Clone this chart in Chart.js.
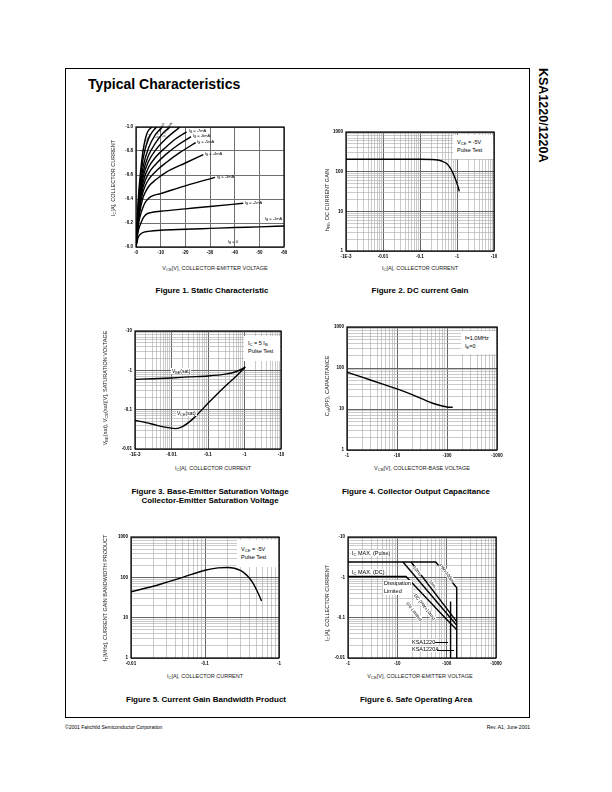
<!DOCTYPE html>
<html><head><meta charset="utf-8">
<script src="https://cdn.jsdelivr.net/npm/chart.js@4.4.0/dist/chart.umd.min.js"></script>
<style>
body{margin:0;width:612px;height:792px;background:#fff;position:relative;font-family:"Liberation Sans",Arial,Helvetica,sans-serif;overflow:hidden}
.abs{position:absolute;white-space:nowrap;z-index:5}
canvas{position:absolute;z-index:1}
sub{font-size:75%;vertical-align:-1px;line-height:0}
.cap{font-weight:bold;font-size:8px;transform:translateX(-50%)}
.ax{font-size:5.5px;color:#222;transform:translateX(-50%)}
.yax{font-size:5.5px;color:#222;transform:translate(-50%,-50%) rotate(-90deg)}
.note{background:#fff;font-size:5.5px;line-height:8px;padding:3px 4px;box-sizing:border-box}
.lbl{font-size:4px;color:#000}
.wl{background:#fff;font-size:5.5px;padding:0 1px;color:#000}
.rl{font-size:4.5px;background:#fff;transform-origin:0 50%}
</style></head><body>
<script>
// ---------------- DATA ----------------
// Figure 1: Static Characteristic (VCE [V] vs IC [A])
const fig1XTicks=[0,10,20,30,40,50,60];
const fig1XLabels=['-0','-10','-20','-30','-40','-50','-60'];
const fig1YTicks=[0,0.2,0.4,0.6,0.8,1.0];
const fig1YLabels=['-0.0','-0.2','-0.4','-0.6','-0.8','-1.0'];
const fig1Ib1=[[0,0],[0.5,0.05],[1,0.085],[2,0.11],[3,0.122],[5,0.13],[10,0.14],[20,0.148],[30,0.155],[40,0.162],[50,0.168],[60,0.175]];
const fig1Ib2=[[0,0],[0.5,0.08],[1,0.14],[2,0.2],[3,0.245],[4,0.27],[6,0.287],[10,0.298],[20,0.318],[30,0.338],[43.5,0.364]];
const fig1Ib3=[[0,0],[0.5,0.1],[1,0.19],[2,0.28],[3,0.34],[4,0.38],[6,0.42],[10,0.445],[20,0.51],[32,0.58]];
const fig1Ib4=[[0,0],[0.5,0.11],[1,0.22],[2,0.34],[3,0.42],[5,0.5],[8,0.56],[12,0.62],[20,0.7],[27.3,0.77]];
const fig1Ib5=[[0,0],[0.5,0.12],[1,0.24],[2,0.38],[3,0.47],[5,0.56],[8,0.63],[12,0.7],[18,0.79],[24.2,0.87]];
const fig1Ib6=[[0,0],[0.5,0.13],[1,0.26],[2,0.41],[3,0.51],[5,0.61],[8,0.69],[12,0.77],[17,0.85],[22.3,0.92]];
const fig1Ib7=[[0,0],[0.5,0.14],[1,0.28],[2,0.44],[3,0.55],[5,0.66],[8,0.75],[12,0.83],[16,0.9],[20.5,0.96]];
const fig1Ib8=[[0,0],[0.5,0.15],[1,0.3],[2,0.47],[3,0.59],[5,0.71],[8,0.81],[12,0.9],[17.8,1.0]];
const fig1Ib9=[[0,0],[0.5,0.16],[1,0.32],[2,0.5],[3,0.63],[5,0.76],[8,0.87],[11,0.95],[13.8,1.0]];
const fig1Ib10=[[0,0],[0.5,0.17],[1,0.34],[2,0.54],[3,0.68],[5,0.82],[8,0.94],[10.7,1.0]];
const fig1Ib15=[[0,0],[0.5,0.19],[1,0.38],[2,0.6],[3,0.75],[5,0.9],[7,0.97],[8.4,1.0]];
const fig1Ib20=[[0,0],[0.5,0.21],[1,0.42],[2,0.66],[3,0.82],[4.5,0.95],[6.4,1.0]];

// Figure 2: DC current gain (IC [A] vs hFE)
const fig2XTicks=[1e-3,0.01,0.1,1,10];
const fig2XLabels=['-1E-3','-0.01','-0.1','-1','-10'];
const fig2YTicks=[1,10,100,1000];
const fig2YLabels=['1','10','100','1000'];
const fig2Hfe=[[1e-3,205],[0.01,205],[0.1,205],[0.2,203],[0.3,197],[0.4,183],[0.5,165],[0.6,140],[0.7,112],[0.8,86],[0.9,66],[1.0,50],[1.1,38],[1.15,32]];

// Figure 3: Saturation voltages (IC [A] vs V)
const fig3XTicks=[1e-3,0.01,0.1,1,10];
const fig3XLabels=['-1E-3','-0.01','-0.1','-1','-10'];
const fig3YTicks=[0.01,0.1,1,10];
const fig3YLabels=['-0.01','-0.1','-1','-10'];
const fig3Vbe=[[1e-3,0.59],[0.003,0.61],[0.01,0.64],[0.03,0.68],[0.1,0.72],[0.3,0.8],[0.5,0.88],[0.8,1.05],[1.05,1.22]];
const fig3Vce=[[1e-3,0.053],[0.002,0.047],[0.004,0.04],[0.008,0.035],[0.013,0.033],[0.02,0.037],[0.04,0.06],[0.1,0.145],[0.3,0.4],[0.6,0.72],[1.05,1.22]];

// Figure 4: Collector output capacitance (VCB [V] vs Cob [pF])
const fig4XTicks=[1,10,100,1000];
const fig4XLabels=['-1','-10','-100','-1000'];
const fig4YTicks=[1,10,100,1000];
const fig4YLabels=['1','10','100','1000'];
const fig4Cob=[[1,79],[2,60],[5,41],[10,31],[20,22.5],[50,14],[80,11.8],[100,11.2],[130,11]];

// Figure 5: Current gain bandwidth product (IC [A] vs fT [MHz])
const fig5XTicks=[0.01,0.1,1];
const fig5XLabels=['-0.01','-0.1','-1'];
const fig5YTicks=[1,10,100,1000];
const fig5YLabels=['1','10','100','1000'];
const fig5Ft=[[0.01,44],[0.02,60],[0.03,75],[0.05,100],[0.1,150],[0.15,172],[0.2,176],[0.25,168],[0.3,148],[0.35,122],[0.4,95],[0.45,70],[0.5,48],[0.55,33],[0.58,26]];

// Figure 6: Safe operating area (VCE [V] vs IC [A])
const fig6XTicks=[1,10,100,1000];
const fig6XLabels=['-1','-10','-100','-1000'];
const fig6YTicks=[0.01,0.1,1,10];
const fig6YLabels=['-0.01','-0.1','-1','-10'];
const fig6Pulse100us=[[1,2.4],[60,2.4],[160,0.55],[160,0.01]];
const fig6Pulse1ms=[[19,2.4],[160,0.08]];
const fig6Pulse10ms=[[13,2.4],[160,0.065]];
const fig6Dc=[[1,1.05],[15,1.05],[100,0.09],[160,0.05]];
const fig6Vceo1220=[[120,0.25],[120,0.01]];

// ---------------- HELPERS ----------------
const TICKFONT={family:'"Liberation Sans",Arial,sans-serif',size:4.5,weight:'bold'};
const frame={id:'frame',afterDraw(c){const a=c.chartArea,x=c.ctx;x.save();x.strokeStyle='#000';x.lineWidth=1.2;x.strokeRect(a.left,a.top,a.right-a.left,a.bottom-a.top);x.restore();}};
function logList(min,max){const t=[];const e0=Math.round(Math.log10(min)),e1=Math.round(Math.log10(max));for(let e=e0;e<e1;e++){for(let m=1;m<10;m++)t.push(m*Math.pow(10,e));}t.push(max);return t;}
function axis(kind,ticks,labels,major,minor){
  const min=ticks[0],max=ticks[ticks.length-1];
  return {type:kind==='log'?'logarithmic':'linear',min,max,
    afterBuildTicks:s=>{const vals=kind==='log'?logList(min,max):ticks;
      s.ticks=vals.map(v=>{const i=ticks.findIndex(t=>Math.abs(t-v)<=1e-9*Math.max(Math.abs(t),1e-6));return {value:v,lab:i>=0?labels[i]:'',isMajor:i>=0};});},
    ticks:{autoSkip:false,maxRotation:0,minRotation:0,padding:3,color:'#000',font:TICKFONT,callback:(v,i,t)=>t[i].lab},
    grid:{drawTicks:false,color:c=>(c.tick&&c.tick.isMajor)?major:minor,lineWidth:c=>(c.tick&&c.tick.isMajor)?1:0.6},
    border:{display:false}};
}
function ds(pts,tension){return {data:pts.map(p=>({x:p[0],y:p[1]})),borderColor:'#000',borderWidth:1.4,pointRadius:0,fill:false,tension:tension||0,cubicInterpolationMode:tension?'monotone':'default'};}
function makeChart(box,datasets,xs,ys){
  const L=26,T=6,R=10,B=12;
  const c=document.createElement('canvas');
  c.width=box.w+L+R;c.height=box.h+T+B;
  c.style.left=(box.x-L)+'px';c.style.top=(box.y-T)+'px';
  document.body.appendChild(c);
  xs.afterFit=s=>{s.height=B;};ys.afterFit=s=>{s.width=L;};
  new Chart(c,{type:'line',data:{datasets},options:{responsive:false,animation:false,devicePixelRatio:1,
    layout:{padding:{top:T,right:R,left:0,bottom:0}},
    plugins:{legend:{display:false},tooltip:{enabled:false}},scales:{x:xs,y:ys}},plugins:[frame]});
}
const MAJ='#666666',MIN='#a8a8a8';
makeChart({x:136,y:127,w:148,h:120},
  [fig1Ib1,fig1Ib2,fig1Ib3,fig1Ib4,fig1Ib5,fig1Ib6,fig1Ib7,fig1Ib8,fig1Ib9,fig1Ib10,fig1Ib15,fig1Ib20].map(d=>ds(d,0.4)),
  axis('lin',fig1XTicks,fig1XLabels,'#707070','#707070'),axis('lin',fig1YTicks,fig1YLabels,'#707070','#707070'));
makeChart({x:346,y:132,w:148,h:119},[ds(fig2Hfe,0.4)],axis('log',fig2XTicks,fig2XLabels,MAJ,MIN),axis('log',fig2YTicks,fig2YLabels,MAJ,MIN));
makeChart({x:135,y:331,w:146,h:118},[ds(fig3Vbe,0.4),ds(fig3Vce,0.4)],axis('log',fig3XTicks,fig3XLabels,MAJ,MIN),axis('log',fig3YTicks,fig3YLabels,MAJ,MIN));
makeChart({x:347,y:327,w:150,h:123},[ds(fig4Cob,0.4)],axis('log',fig4XTicks,fig4XLabels,MAJ,MIN),axis('log',fig4YTicks,fig4YLabels,MAJ,MIN));
makeChart({x:131,y:537,w:148,h:121},[ds(fig5Ft,0.4)],axis('log',fig5XTicks,fig5XLabels,MAJ,MIN),axis('log',fig5YTicks,fig5YLabels,MAJ,MIN));
makeChart({x:348,y:537,w:148,h:121},[fig6Pulse100us,fig6Pulse1ms,fig6Pulse10ms,fig6Dc,fig6Vceo1220].map(d=>ds(d,0)),axis('log',fig6XTicks,fig6XLabels,MAJ,MIN),axis('log',fig6YTicks,fig6YLabels,MAJ,MIN));
</script>

<!-- page frame -->
<div class="abs" style="left:65px;top:68px;width:465px;height:650px;border:1px solid #000;box-sizing:border-box;z-index:0"></div>
<div class="abs" style="left:88px;top:76px;font-size:14px;font-weight:bold">Typical Characteristics</div>
<div class="abs" style="left:543px;top:68px;font-size:12.5px;font-weight:bold;transform-origin:0 0;transform:rotate(90deg) translateY(-50%)">KSA1220/1220A</div>
<div class="abs" style="left:65px;top:724px;font-size:5px">©2001 Fairchild Semiconductor Corporation</div>
<div class="abs" style="left:530px;top:724px;font-size:5px;transform:translateX(-100%)">Rev. A1, June 2001</div>

<!-- Figure 1 -->
<div class="abs yax" style="left:113px;top:178px">I<sub>C</sub>[A], COLLECTOR CURRENT</div>
<div class="abs ax" style="left:215px;top:265px">V<sub>CE</sub>[V], COLLECTOR-EMITTER VOLTAGE</div>
<div class="abs cap" style="left:212px;top:286px">Figure 1. Static Characteristic</div>
<div class="abs lbl" style="left:265px;top:216px">I<sub>B</sub> = -1mA</div>
<div class="abs lbl" style="left:245px;top:200px">I<sub>B</sub> = -2mA</div>
<div class="abs lbl" style="left:217px;top:174px">I<sub>B</sub> = -3mA</div>
<div class="abs lbl" style="left:205px;top:151px">I<sub>B</sub> = -4mA</div>
<div class="abs lbl" style="left:197px;top:139px">I<sub>B</sub> = -5mA</div>
<div class="abs lbl" style="left:193px;top:133px">I<sub>B</sub> = -6mA</div>
<div class="abs lbl" style="left:189px;top:127.5px">I<sub>B</sub> = -7mA</div>
<div class="abs lbl" style="left:228px;top:238.5px">I<sub>B</sub> = 0</div>
<div class="abs lbl" style="left:139px;top:150px;transform-origin:0 0;transform:rotate(-62deg)">I<sub>B</sub> = -20mA</div>
<div class="abs lbl" style="left:154px;top:137px;font-size:3.5px;transform-origin:0 0;transform:rotate(-62deg)">I<sub>B</sub> = -15mA</div>
<div class="abs lbl" style="left:161px;top:136px;font-size:3.5px;transform-origin:0 0;transform:rotate(-58deg)">I<sub>B</sub> = -10mA</div>

<!-- Figure 2 -->
<div class="abs yax" style="left:327px;top:200px">h<sub>FE</sub>, DC CURRENT GAIN</div>
<div class="abs ax" style="left:420px;top:265px">I<sub>C</sub>[A], COLLECTOR CURRENT</div>
<div class="abs cap" style="left:420px;top:286px">Figure 2. DC current Gain</div>
<div class="abs note" style="left:453px;top:135px;width:40px;height:24px">V<sub>CE</sub> = -5V<br>Pulse Test</div>

<!-- Figure 3 -->
<div class="abs yax" style="left:105px;top:388px">V<sub>BE</sub>(sat), V<sub>CE</sub>(sat)[V], SATURATION VOLTAGE</div>
<div class="abs ax" style="left:213px;top:465px">I<sub>C</sub>[A], COLLECTOR CURRENT</div>
<div class="abs cap" style="left:210px;top:487px;text-align:center;line-height:9px">Figure 3. Base-Emitter Saturation Voltage<br>Collector-Emitter Saturation Voltage</div>
<div class="abs note" style="left:244px;top:336px;width:36px;height:25px">I<sub>C</sub> = 5 I<sub>B</sub><br>Pulse Test</div>
<div class="abs wl" style="left:171px;top:368px;font-size:5px">V<sub>BE</sub>(sat)</div>
<div class="abs wl" style="left:176px;top:410px;font-size:5px">V<sub>CE</sub>(sat)</div>

<!-- Figure 4 -->
<div class="abs yax" style="left:327px;top:386px">C<sub>ob</sub>(PF), CAPACITANCE</div>
<div class="abs ax" style="left:422px;top:465px">V<sub>CB</sub>[V], COLLECTOR-BASE VOLTAGE</div>
<div class="abs cap" style="left:416px;top:487px">Figure 4. Collector Output Capacitance</div>
<div class="abs note" style="left:461px;top:331px;width:35px;height:23px">f=1.0MHz<br>I<sub>E</sub>=0</div>

<!-- Figure 5 -->
<div class="abs yax" style="left:105px;top:598px">f<sub>T</sub>[MHz], CURRENT GAIN BANDWIDTH PRODUCT</div>
<div class="abs ax" style="left:205px;top:673px">I<sub>C</sub>[A], COLLECTOR CURRENT</div>
<div class="abs cap" style="left:206px;top:695px">Figure 5. Current Gain Bandwidth Product</div>
<div class="abs note" style="left:237px;top:540px;width:41px;height:27px;padding-top:5px">V<sub>CE</sub> = -5V<br>Pulse Test</div>

<!-- Figure 6 -->
<div class="abs yax" style="left:327px;top:603px">I<sub>C</sub>[A], COLLECTOR CURRENT</div>
<div class="abs ax" style="left:420px;top:673px">V<sub>CE</sub>[V], COLLECTOR-EMITTER VOLTAGE</div>
<div class="abs cap" style="left:416px;top:695px">Figure 6. Safe Operating Area</div>
<div class="abs wl" style="left:351px;top:550px">I<sub>C</sub> MAX. (Pulse)</div>
<div class="abs wl" style="left:351px;top:569px">I<sub>C</sub> MAX. (DC)</div>
<div class="abs wl" style="left:383px;top:580px;line-height:7.5px">Dissipation<br>Limited</div>
<div class="abs wl" style="left:411px;top:638.5px">KSA1220</div>
<div class="abs wl" style="left:411px;top:646px">KSA1220A</div>
<div class="abs" style="left:435px;top:642px;width:13px;border-top:0.8px solid #000"></div>
<div class="abs" style="left:437px;top:649.5px;width:17px;border-top:0.8px solid #000"></div>
<div class="abs rl" style="left:440px;top:562px;transform:rotate(52deg)">PW=100μs</div>
<div class="abs rl" style="left:430px;top:578px;transform:rotate(52deg)">1ms</div>
<div class="abs rl" style="left:414px;top:564px;transform:rotate(52deg)">10ms</div>
<div class="abs rl" style="left:415px;top:592px;transform:rotate(52deg)">DC (PW=10ms)</div>
<div class="abs rl" style="left:407px;top:600px;transform:rotate(52deg)">S/b Limited</div>
</body></html>
